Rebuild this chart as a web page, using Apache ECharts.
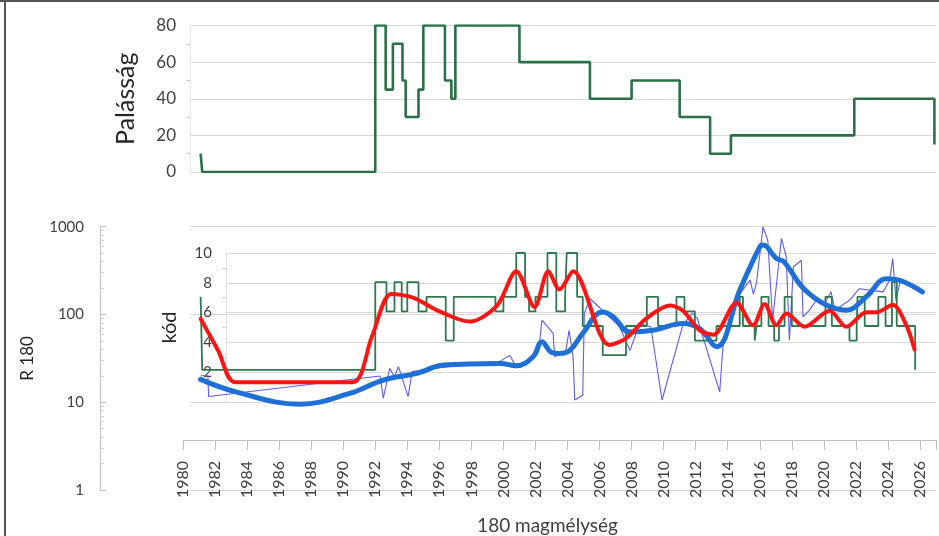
<!DOCTYPE html>
<html>
<head>
<meta charset="utf-8">
<script src="https://cdn.jsdelivr.net/npm/echarts@6/dist/echarts.min.js"></script>
<style>
html,body{margin:0;padding:0;background:#fff;}
#c{width:939px;height:536px;}
</style>
</head>
<body>
<div id="c"></div>
<script>
// ---- data ----
const palassagYears = [1981.1,1981.2,1992.0,1992.65,1993.1,1993.7,1993.9,1994.7,1995.0,1996.35,1996.75,1997.0,2001.0,2005.4,2008.0,2011.0,2012.9,2014.2,2021.9,2026.9];
const palassagVals  = [10,0,80,45,70,50,30,45,80,50,40,80,60,40,50,30,10,20,40,15];

const kodYears = [1981.1,1981.2,1992.0,1992.7,1993.2,1993.65,1994.0,1994.7,1995.2,1996.4,1996.9,1999.5,2000.0,2000.8,2001.35,2001.6,2002.0,2002.75,2003.3,2003.85,2003.95,2004.6,2004.95,2006.2,2007.65,2008.95,2009.65,2010.8,2011.3,2011.95,2013.3,2014.75,2014.95,2015.68,2015.8,2016.1,2016.55,2016.9,2017.2,2017.55,2018.0,2020.1,2020.5,2021.6,2022.05,2022.1,2022.55,2023.4,2023.85,2024.25,2024.55,2025.7];
const kodVals  = [7,2,8,6,8,6,8,6,7,4,7,6,7,10,7,6,7,10,6,7,10,7,5,3,5,7,5,7,6,4,5,7,5,4,5,7,5,4,5,7,5,7,5,4,5,7,5,7,5,8,5,2];

const redYears = [1981.1,1982.2,1983.25,1987.0,1990.6,1991.8,1993.0,1994.35,1996.0,1997.9,1999.6,2000.8,2001.95,2002.8,2003.5,2004.35,2006.6,2007.65,2008.9,2010.4,2011.2,2012.25,2013.1,2014.55,2015.58,2016.3,2017.04,2017.66,2018.8,2020.36,2021.4,2022.65,2023.3,2024.3,2025.15,2025.66];
const redVals  = [5.5,3.3,1.15,1.15,1.15,4.3,7.2,6.95,6.0,5.3,6.4,8.75,6.3,8.75,7.5,8.75,3.7,4.15,5.5,6.4,6.05,4.7,4.4,6.6,5.05,6.5,5.05,5.85,4.95,6.05,4.95,5.95,5.95,6.45,5.05,3.4];

const trendYears = [1981.1,1983.25,1987.3,1990.4,1992.5,1994.6,1996.25,1999.8,2000.8,2001.85,2002.4,2003.0,2003.5,2004.15,2004.95,2006.2,2006.85,2007.9,2009.35,2011.2,2012.25,2013.3,2014.75,2016.0,2016.2,2017.04,2017.5,2018.75,2020.15,2021.4,2022.65,2023.9,2024.7,2026.15];
const trendVals  = [18.2,13.2,9.5,12.6,17.9,21.3,26.5,27.7,26,33,49,37,36,39,61,107,94,63,66,79,69,43,189,590,617,435,400,196,128,112,159,256,246,181];

const rawYears = [1981.1,1981.55,1981.6,1992.3,1992.5,1992.9,1993.2,1993.45,1994.05,1994.3,1995.5,1997,1999.5,2000.0,2000.4,2000.8,2001.3,2001.8,2002.2,2002.4,2003.1,2003.2,2003.9,2004.1,2004.35,2004.45,2004.95,2005.05,2005.4,2007.25,2007.9,2008.5,2009.2,2009.9,2011.2,2011.8,2012.1,2013.5,2013.7,2014.75,2015.4,2015.6,2015.8,2016.2,2016.5,2016.8,2017.35,2017.65,2017.85,2018.1,2018.6,2018.7,2019.1,2019.6,2020.05,2020.45,2020.7,2021.6,2022.2,2023.7,2024.1,2024.3,2024.5,2024.8];
const rawVals  = [20,20,11.6,19.9,11.1,24.3,19.5,25.4,11.6,22.3,24,26,27,31,34,25.4,28,33,37.6,86,61,33,39,66,33,10.6,12,103,152,72.5,39,79,72.5,10.6,76,103,90,13.1,42.8,172,246,170,230,1000,700,86,735,455,51,350,415,94,112,152,134,181,112,145,196,181,246,434,145,256];

const xTickMin = 1980, xTickMax = 2027;
const pairs = (xs, ys) => xs.map((x, i) => [x, ys[i]]);

// ---- chart ----
const FONT = 'Lato';
const axisCol = '#bfbfbf';
const gridCol = '#d9d9d9';
const txt = '#404040';
const pxPerYear = (936 - 183) / (xTickMax - xTickMin);
const shiftedMin = xTickMin + (190 - 183) / pxPerYear;

const chart = echarts.init(document.getElementById('c'), null, {renderer: 'canvas'});
chart.setOption({
  backgroundColor: '#fff',
  animation: false,
  textStyle: {fontFamily: FONT},
  graphic: [
    {type: 'line', shape: {x1: 5, y1: 0, x2: 5, y2: 536}, style: {stroke: '#555', lineWidth: 2}},
    {type: 'line', shape: {x1: 0, y1: 1, x2: 939, y2: 1}, style: {stroke: '#555', lineWidth: 2}}
  ],
  grid: [
    {left: 190, right: 3, top: 25.5, height: 146.5},
    {left: 190, right: 3, top: 226.7, height: 263.3},
    {left: 226, right: 3, top: 253, height: 149},
    {left: 183, right: 3, top: 253, height: 149}
  ],
  xAxis: [
    {gridIndex: 0, type: 'value', min: shiftedMin, max: xTickMax, show: false},
    {gridIndex: 1, type: 'value', min: shiftedMin, max: xTickMax, show: false},
    {gridIndex: 2, type: 'value', min: 0, max: 1, show: false},
    {gridIndex: 3, type: 'value', min: xTickMin, max: xTickMax, interval: 2, offset: 41,
      axisLine: {show: true, onZero: false, lineStyle: {color: axisCol}},
      axisTick: {show: true, length: 10, lineStyle: {color: axisCol}},
      axisLabel: {rotate: 90, fontSize: 16, color: txt, margin: 21, fontFamily: FONT,
        formatter: v => (v <= 2026 ? String(v) : '')},
      splitLine: {show: false},
      name: '180 magmélység', nameLocation: 'middle', nameGap: 76,
      nameTextStyle: {fontSize: 19, color: txt, fontFamily: FONT, padding: [0, 24, 0, 0]}}
  ],
  yAxis: [
    {gridIndex: 0, type: 'value', min: 0, max: 80, interval: 20,
      axisLine: {show: true, lineStyle: {color: '#e6e6e6'}},
      axisTick: {show: false},
      minorTick: {show: true, splitNumber: 2, length: 3, lineStyle: {color: axisCol}},
      axisLabel: {fontSize: 17, color: txt, margin: 14, fontFamily: FONT},
      splitLine: {show: true, lineStyle: {color: gridCol}},
      name: 'Palásság', nameLocation: 'middle', nameGap: 52,
      nameTextStyle: {fontSize: 25, color: '#262626', fontFamily: FONT}},
    {gridIndex: 1, type: 'log', logBase: 10, min: 1, max: 1000, offset: 90,
      axisLine: {show: true, lineStyle: {color: axisCol}},
      axisTick: {show: true, inside: true, length: 6, lineStyle: {color: axisCol}},
      minorTick: {show: true, splitNumber: 9, length: 4, lineStyle: {color: '#d0d0d0'}},
      axisLabel: {fontSize: 15, color: txt, margin: 16, fontFamily: FONT,
        formatter: v => String(Math.round(v))},
      splitLine: {show: true, lineStyle: {color: gridCol}},
      name: 'R 180', nameLocation: 'middle', nameGap: 64,
      nameTextStyle: {fontSize: 17, color: '#262626', fontFamily: FONT}},
    {gridIndex: 2, type: 'value', min: 0, max: 10, interval: 2,
      axisLine: {show: true, lineStyle: {color: '#e0e0e0'}},
      axisTick: {show: false},
      minorTick: {show: true, splitNumber: 2, length: 4, lineStyle: {color: '#d0d0d0'}},
      axisLabel: {fontSize: 15, color: txt, margin: 14, fontFamily: FONT,
        formatter: v => (v === 0 ? '' : String(v))},
      splitLine: {show: true, lineStyle: {color: gridCol}},
      name: 'kód', nameLocation: 'middle', nameGap: 46,
      nameTextStyle: {fontSize: 20, color: '#262626', fontFamily: FONT}},
    {gridIndex: 3, type: 'value', min: 0, max: 10, show: false}
  ],
  series: [
    {type: 'line', xAxisIndex: 0, yAxisIndex: 0, step: 'end', symbol: 'none',
      data: pairs(palassagYears, palassagVals),
      lineStyle: {color: '#2b7148', width: 2.6}},
    {type: 'line', xAxisIndex: 1, yAxisIndex: 1, symbol: 'none', clip: false,
      data: pairs(rawYears, rawVals),
      lineStyle: {color: '#5c5cf2', width: 1.1}},
    {type: 'line', xAxisIndex: 3, yAxisIndex: 3, step: 'end', symbol: 'none', clip: false,
      data: pairs(kodYears, kodVals),
      lineStyle: {color: '#2e7a4c', width: 1.8}},
    {type: 'line', xAxisIndex: 1, yAxisIndex: 1, symbol: 'none', smooth: 0.4, clip: false,
      data: pairs(trendYears, trendVals),
      lineStyle: {color: '#1e6fd6', width: 5, cap: 'round', join: 'round'}},
    {type: 'line', xAxisIndex: 3, yAxisIndex: 3, symbol: 'none', smooth: 0.3, clip: false,
      data: pairs(redYears, redVals),
      lineStyle: {color: '#ff1414', width: 4, cap: 'round', join: 'round'}}
  ]
});
</script>
</body>
</html>
